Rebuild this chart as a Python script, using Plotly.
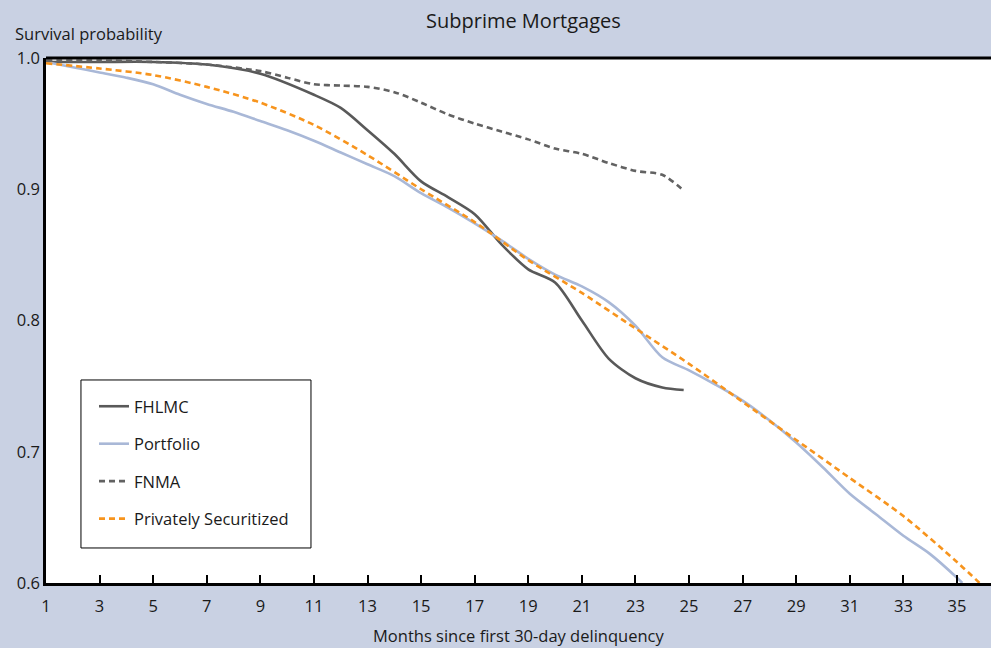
import plotly.graph_objects as go

# months since first 30-day delinquency
fhlmc_months = [1, 3, 5, 7, 9, 11, 12, 13, 14, 15, 16, 17, 18, 19, 20, 21, 22, 23, 24, 24.8]
fhlmc = [0.997, 0.997, 0.997, 0.995, 0.988, 0.972, 0.962, 0.945, 0.927, 0.906, 0.894,
         0.881, 0.858, 0.839, 0.829, 0.800, 0.771, 0.756, 0.749, 0.747]

portfolio_months = [1, 2, 3, 4, 5, 6, 7, 8, 9, 10, 11, 12, 13, 14, 15, 16, 17, 18, 19, 20,
                    21, 22, 23, 24, 25, 26, 27, 28, 29, 30, 31, 32, 33, 34, 35, 35.2]
portfolio = [0.997, 0.993, 0.989, 0.985, 0.980, 0.972, 0.965, 0.959, 0.952, 0.945, 0.937,
             0.928, 0.919, 0.910, 0.897, 0.886, 0.874, 0.861, 0.847, 0.835, 0.826, 0.814,
             0.796, 0.772, 0.762, 0.751, 0.739, 0.724, 0.707, 0.688, 0.668, 0.652, 0.636,
             0.622, 0.604, 0.600]

fnma_months = [1, 3, 5, 7, 9, 10, 11, 12, 13, 14, 15, 16, 17, 18, 19, 20, 21, 22, 23, 24, 24.8]
fnma = [0.998, 0.998, 0.997, 0.995, 0.990, 0.985, 0.980, 0.979, 0.978, 0.974, 0.966, 0.957,
        0.950, 0.944, 0.938, 0.931, 0.927, 0.920, 0.914, 0.911, 0.899]

private_months = [1, 3, 5, 7, 9, 11, 13, 15, 17, 19, 21, 23, 25, 27, 29, 31, 33, 35, 36]
private = [0.996, 0.992, 0.987, 0.978, 0.966, 0.949, 0.926, 0.900, 0.875, 0.846, 0.821,
           0.794, 0.767, 0.738, 0.709, 0.680, 0.651, 0.616, 0.597]

x_ticks = list(range(1, 36, 2))
y_ticks = [0.6, 0.7, 0.8, 0.9, 1.0]

BG = "#C9D1E3"
FONT = "Open Sans"

fig = go.Figure()

series = [
    ("FHLMC", fhlmc_months, fhlmc, "#595959", "solid"),
    ("Portfolio", portfolio_months, portfolio, "#A9B8D7", "solid"),
    ("FNMA", fnma_months, fnma, "#626262", "6px,4px"),
    ("Privately Securitized", private_months, private, "#F7941D", "6px,4px"),
]
for name, xs, ys, color, dash in series:
    fig.add_trace(go.Scatter(
        x=xs, y=ys, name=name, mode="lines", legendgroup=name,
        line=dict(color=color, width=2.6, dash=dash, shape="spline", smoothing=0.8),
    ))

fig.update_layout(
    width=991, height=648,
    paper_bgcolor=BG, plot_bgcolor="white",
    margin=dict(l=46, r=0, t=58, b=65),
    font=dict(family=FONT, size=16, color="#1a1a1a"),
    showlegend=True,
    legend=dict(
        x=0.0508, y=0.3695, xanchor="left", yanchor="top",
        bgcolor="rgba(0,0,0,0)", borderwidth=0,
        font=dict(size=16.5), tracegroupgap=13,
    ),
    xaxis=dict(
        range=[1, 36.27], tickvals=x_ticks, ticks="inside", ticklen=8,
        tickcolor="black", tickwidth=1.5, showgrid=False, zeroline=False,
        showline=True, linecolor="black", linewidth=2.5,
        tickfont=dict(size=16.5), ticklabelstandoff=6,
    ),
    yaxis=dict(
        range=[0.6, 1.0], tickvals=y_ticks, tickformat=".1f", ticks="",
        showgrid=False, zeroline=False, showline=True, linecolor="black",
        linewidth=2.5, tickfont=dict(size=16.5),
    ),
)

# legend frame
fig.add_shape(type="rect", xref="paper", yref="paper",
              x0=0.037, x1=0.2804, y0=0.0667, y1=0.3867,
              line=dict(color="black", width=1), fillcolor="white", layer="below")

# thick frame line along the top of the plot
fig.add_shape(type="line", xref="paper", yref="paper", x0=0, x1=1, y0=1, y1=1,
              line=dict(color="black", width=3))

fig.add_annotation(text="Subprime Mortgages", xref="paper", yref="paper",
                   x=0.505, y=1.0, yshift=38, showarrow=False,
                   font=dict(size=20), xanchor="center", yanchor="middle")
fig.add_annotation(text="Survival probability", xref="paper", yref="paper",
                   x=-0.035, y=1.0, yshift=25, showarrow=False,
                   font=dict(size=16.5), xanchor="left", yanchor="middle")
fig.add_annotation(text="Months since first 30-day delinquency", xref="paper", yref="paper",
                   x=0.5, y=0, yshift=-52, showarrow=False,
                   font=dict(size=16.5), xanchor="center", yanchor="middle")

fig.write_html("out.html", config={"displayModeBar": False},
               post_script="document.body.style.margin='0';")
